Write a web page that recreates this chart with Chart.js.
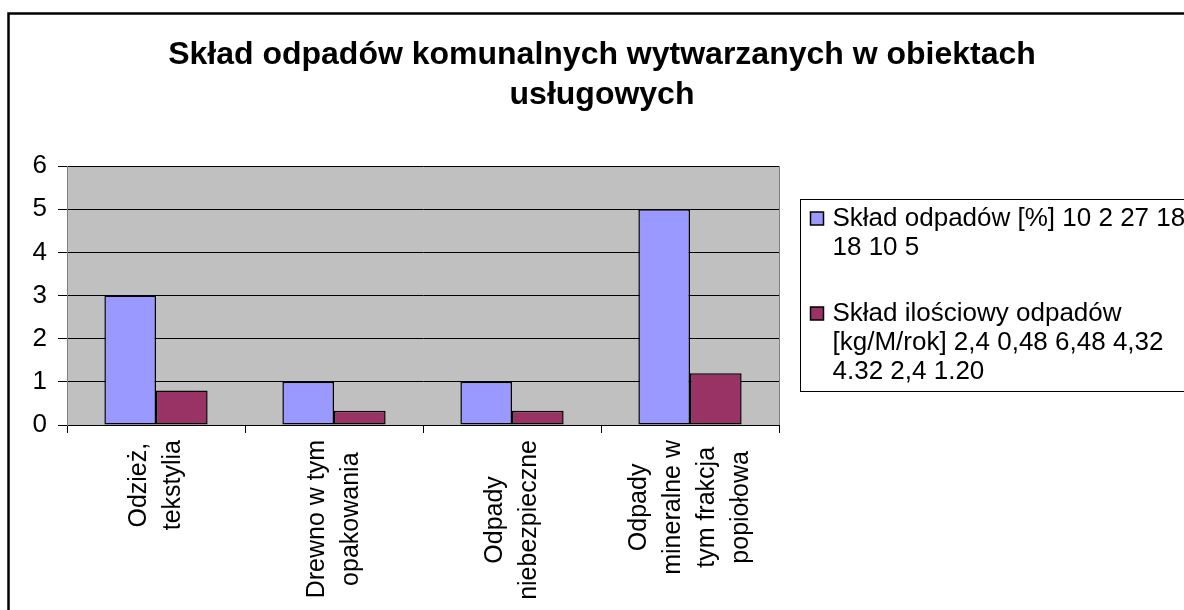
<!DOCTYPE html>
<html>
<head>
<meta charset="utf-8">
<title>Skład odpadów komunalnych</title>
<script src="https://cdn.jsdelivr.net/npm/chart.js@4/dist/chart.umd.min.js"></script>
<style>
    html, body { margin: 0; padding: 0; background: #fff; }
    .wrap { position: relative; width: 1184px; height: 610px; }
</style>
</head>
<body>
<div class="wrap"><canvas id="wasteChart"></canvas></div>
<script>
// ========== DATA ==========
const categories = [
    ["Odzież,", "tekstylia"],
    ["Drewno w tym", "opakowania"],
    ["Odpady", "niebezpieczne"],
    ["Odpady", "mineralne w", "tym frakcja", "popiołowa"]
];
const compositionPct = [3, 1, 1, 5];
const quantityKg = [0.8, 0.33, 0.33, 1.2];
const seriesNames = [
    "Skład odpadów [%] 10 2 27 18 18 10 5",
    "Skład ilościowy odpadów [kg/M/rok] 2,4 0,48 6,48 4,32 4.32 2,4 1.20"
];
const titleLines = ["Skład odpadów komunalnych wytwarzanych w obiektach", "usługowych"];

const FONT = '"Liberation Sans", Arial, sans-serif';

// ========== PLUGINS ==========
// grey plot area + outer frame
const backdrop = {
    id: "backdrop",
    beforeDraw(chart) {
        const { ctx, chartArea: a } = chart;
        ctx.save();
        ctx.fillStyle = "#c0c0c0";
        ctx.fillRect(a.left, a.top, a.right - a.left, a.bottom - a.top);
        ctx.strokeStyle = "#808080";
        ctx.lineWidth = 1;
        ctx.beginPath();
        ctx.moveTo(Math.round(a.right) + 0.5, a.top);
        ctx.lineTo(Math.round(a.right) + 0.5, a.bottom);
        ctx.stroke();
        // chart frame (runs off the right and bottom edge)
        ctx.strokeStyle = "#000";
        ctx.lineWidth = 2.5;
        ctx.beginPath();
        ctx.moveTo(8.5, 700);
        ctx.lineTo(8.5, 13.5);
        ctx.lineTo(1300, 13.5);
        ctx.stroke();
        ctx.restore();
    }
};

// rotated category labels, lines centred on each other
const xLabels = {
    id: "xLabels",
    afterDraw(chart) {
        const { ctx } = chart;
        const xs = chart.scales.x;
        ctx.save();
        ctx.font = "25px " + FONT;
        ctx.fillStyle = "#000";
        ctx.textAlign = "center";
        ctx.textBaseline = "middle";
        chart.data.labels.forEach((lab, i) => {
            const lines = Array.isArray(lab) ? lab : [lab];
            const maxW = Math.max(...lines.map(l => ctx.measureText(l).width));
            const cx = xs.getPixelForValue(i);
            const cy = xs.top + 15 + maxW / 2;
            ctx.save();
            ctx.translate(cx, cy);
            ctx.rotate(-Math.PI / 2);
            lines.forEach((l, j) => ctx.fillText(l, 0, (j - (lines.length - 1) / 2) * 34));
            ctx.restore();
        });
        ctx.restore();
    }
};

// boxed legend with wrapped text
const boxLegend = {
    id: "boxLegend",
    afterDraw(chart) {
        const { ctx, chartArea: a } = chart;
        const left = Math.round(a.right) + 21.5;
        const top = 199.5;
        ctx.save();
        ctx.strokeStyle = "#000";
        ctx.lineWidth = 1;
        ctx.strokeRect(left, top, 600, 192);

        ctx.font = "26px " + FONT;
        ctx.textBaseline = "middle";
        ctx.textAlign = "left";
        let y = top + 19;
        chart.data.datasets.forEach(ds => {
            // wrap the label
            const words = ds.label.split(" ");
            const lines = [];
            let cur = "";
            words.forEach(w => {
                const test = cur ? cur + " " + w : w;
                if (ctx.measureText(test).width > 375 && cur) {
                    lines.push(cur);
                    cur = w;
                } else {
                    cur = test;
                }
            });
            lines.push(cur);

            ctx.fillStyle = ds.backgroundColor;
            ctx.fillRect(left + 10, y - 6.5, 13, 13);
            ctx.strokeStyle = "#000";
            ctx.lineWidth = 1.5;
            ctx.strokeRect(left + 10, y - 6.5, 13, 13);

            ctx.fillStyle = "#000";
            lines.forEach((l, j) => ctx.fillText(l, left + 32, y + j * 29));
            y += lines.length * 29 + 37;
        });
        ctx.restore();
    }
};

// ========== CHART ==========
const ctx = document.getElementById("wasteChart").getContext("2d");

const wasteChart = new Chart(ctx, {
    type: "bar",
    data: {
        labels: categories,
        datasets: [{
            label: seriesNames[0],
            data: compositionPct,
            backgroundColor: "#9999ff",
            borderColor: "#000",
            borderWidth: 1.5,
            borderSkipped: false,
            yAxisID: "y"
        },
        {
            label: seriesNames[1],
            data: quantityKg,
            backgroundColor: "#993366",
            borderColor: "#000",
            borderWidth: 1.5,
            borderSkipped: false,
            yAxisID: "y"
        }]
    },
    options: {
        responsive: true,
        maintainAspectRatio: false,
        animation: false,
        devicePixelRatio: 1,
        categoryPercentage: 0.58,
        barPercentage: 1.0,
        layout: { padding: { left: 20, right: 0, top: 0, bottom: 0 } },
        scales: {
            x: {
                grid: { display: true, drawOnChartArea: false, offset: true, tickLength: 8, color: "#000", tickColor: "#000" },
                border: { display: true, color: "#000", width: 1 },
                ticks: { display: false },
                afterFit: (s) => { s.height = 185; }
            },
            y: {
                min: 0,
                max: 6,
                ticks: { stepSize: 1, color: "#000", padding: 11, font: { family: FONT, size: 26 } },
                grid: { color: "#000", tickColor: "#000", tickLength: 9, lineWidth: 1 },
                border: { display: true, color: "#808080", width: 1 },
                afterFit: (s) => { s.width = 47; }
            },
            // empty axis that only keeps room for the legend on the right
            pad: {
                type: "linear",
                position: "right",
                axis: "y",
                ticks: { display: false },
                grid: { display: false },
                border: { display: false },
                afterFit: (s) => { s.width = 405; }
            }
        },
        plugins: {
            legend: { display: false },
            tooltip: { enabled: false },
            title: {
                display: true,
                text: titleLines,
                color: "#000",
                font: { family: FONT, size: 32, weight: "bold", lineHeight: 1.25 },
                padding: { top: 35, bottom: 51 }
            }
        }
    },
    plugins: [backdrop, xLabels, boxLegend]
});
</script>
</body>
</html>
